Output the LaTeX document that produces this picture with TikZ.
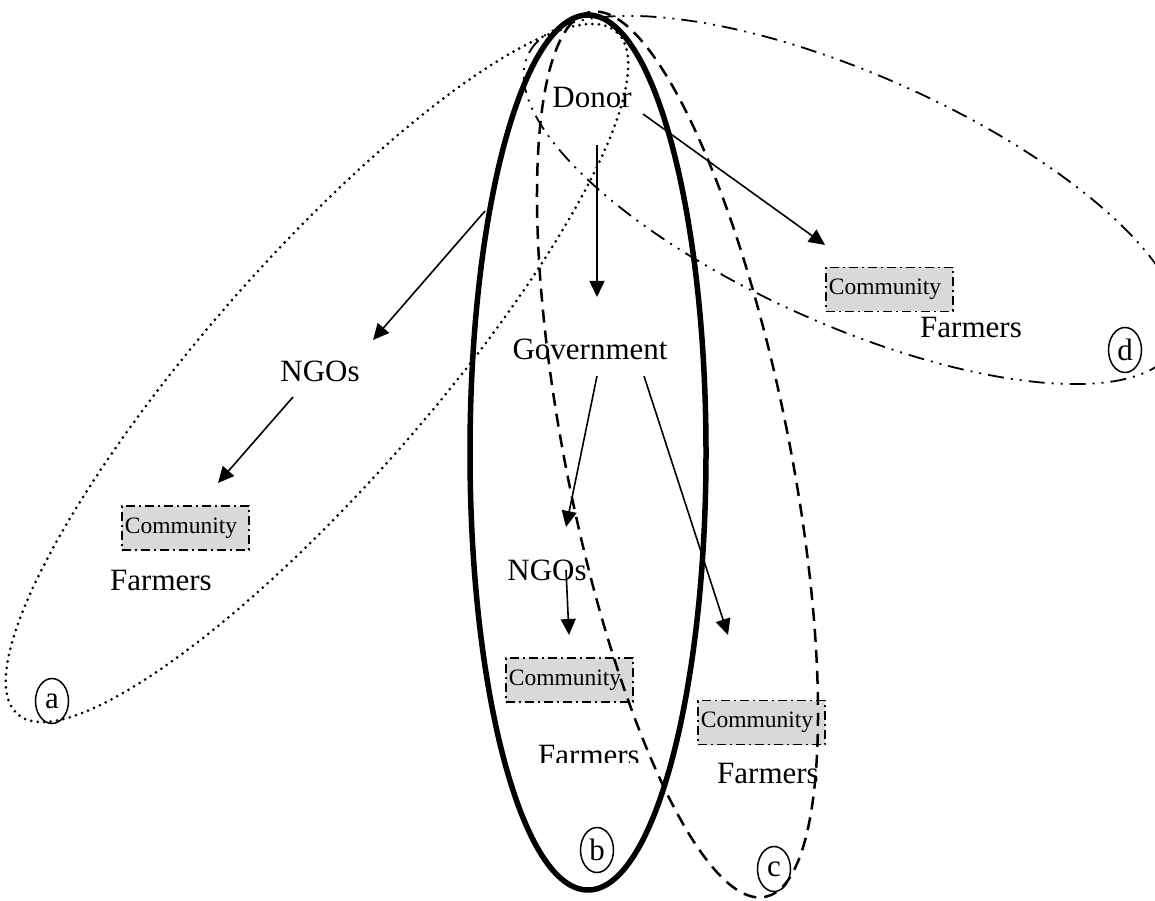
\documentclass[tikz,border=0pt]{standalone}
\usepackage{fontspec}
\setmainfont{Liberation Serif}
\usetikzlibrary{arrows.meta,shapes.geometric}
\begin{document}
\begin{tikzpicture}[x=1pt,y=1pt,
  word/.style={inner sep=0pt, anchor=base, font=\fontsize{31}{36}\selectfont},
  commbox/.style={draw, line width=1.8pt, dash pattern=on 9pt off 4pt on 2pt off 4pt,
    fill=black!15, anchor=west, minimum height=44pt, text width=121pt,
    inner xsep=3pt, inner ysep=0pt, align=left, font=\fontsize{23.5}{28}\selectfont},
  flow/.style={line width=1.6pt, -{Triangle[length=16pt,width=15pt]}},
  tag/.style={draw, ellipse, line width=1.5pt, inner sep=0pt, minimum width=33pt,
    minimum height=45pt, font=\fontsize{31}{36}\selectfont},
  grpa/.style={line width=3pt, line cap=round, dash pattern=on 0pt off 6.5pt},
  grpb/.style={line width=5.5pt},
  grpc/.style={line width=2.5pt, dash pattern=on 13pt off 8pt},
  grpd/.style={line width=1.8pt, dash pattern=on 16pt off 7pt on 2pt off 7pt on 2pt off 7pt}
]
\useasboundingbox (0,0) rectangle (1155,900);
\clip (0,0) rectangle (1155,900);

% community boxes
\node[commbox] (comm1) at (121,372) {Community};
\node[commbox] (comm2) at (505,220) {Community};
\node[commbox] (comm3) at (697,177.5) {Community};
\node[commbox] (comm4) at (825,610.5) {Community};

% actors
\node[word] (donor) at (592,792) {Donor};
\node[word] (gov) at (590,540) {Government};
\node[word] (ngo1) at (320,518) {NGOs};
\node[word] (ngo2) at (547,320) {NGOs};
\node[word] (farm1) at (161,310) {Farmers};
\begin{scope}
  \clip (480,138) rectangle (700,200);
  \node[word] (farm2) at (589,135) {Farmers};
\end{scope}
\node[word] (farm3) at (768,117) {Farmers};
\node[word] (farm4) at (971,562) {Farmers};

% channel groupings
\draw[grpa] (317,527) ellipse [x radius=454, y radius=112, rotate=48.7];
\draw[grpb] (588,447.5) ellipse [x radius=118, y radius=437.5];
\draw[grpc] (677.5,445.5) ellipse [x radius=112, y radius=451, rotate=11.2];
\draw[grpd] (852,700) ellipse [x radius=355, y radius=125, rotate=-24];

% group tags
\node[tag] (ta) at (52,199) {a};
\node[tag] (tb) at (597,50) {b};
\node[tag] (tc) at (774,31) {c};
\node[tag] (td) at (1125,550) {d};

% arrow end points
\coordinate (d-s) at (597,755);
\coordinate (g-n) at (597,603);
\coordinate (d-e) at (643,786);
\coordinate (c4-w) at (825,655);
\coordinate (grp-l) at (485,689);
\coordinate (n1-n) at (373,560);
\coordinate (n1-s) at (293,503);
\coordinate (c1-n) at (218,417);
\coordinate (g-sw) at (597,524);
\coordinate (n2-n) at (566,373);
\coordinate (g-se) at (644,524);
\coordinate (c3-n) at (728,265);
\coordinate (n2-s) at (566,330);
\coordinate (c2-n) at (569,265);

\draw[flow] (d-s) -- (g-n);
\draw[flow] (d-e) -- (c4-w);
\draw[flow] (grp-l) -- (n1-n);
\draw[flow] (n1-s) -- (c1-n);
\draw[flow] (g-sw) -- (n2-n);
\draw[flow] (g-se) -- (c3-n);
\draw[flow] (n2-s) -- (c2-n);
\end{tikzpicture}
\end{document}
